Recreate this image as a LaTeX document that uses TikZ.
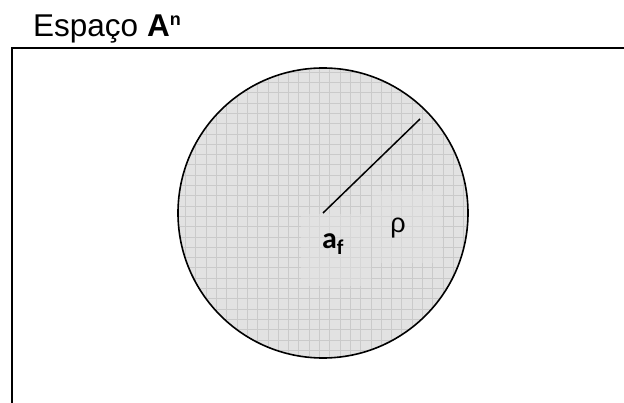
\documentclass[tikz,border=0pt]{standalone}
\usepackage{fontspec}
\setmainfont{Liberation Sans}
\newfontfamily\calfont{Carlito}
\usepackage{xcolor}
\usetikzlibrary{positioning}
\definecolor{ballgray}{HTML}{E2E2E2}
\definecolor{gridgray}{HTML}{CACACA}
\tikzset{
  frameline/.style={line width=1.7pt},
  labelbox/.style={fill=ballgray,opacity=0.5,text opacity=1,minimum width=70pt,minimum height=72pt,inner sep=0pt}
}

\begin{document}
\begin{tikzpicture}[x=1pt,y=-1pt]
    \useasboundingbox (0,0) rectangle (624,403);
    \clip (0,0) rectangle (624,403);

    % Title
    \node[anchor=base west,inner sep=0pt,font=\fontsize{31.5}{34}\selectfont] (title) at (33,37)
        {Espaço \textbf{A\raisebox{11pt}{\fontsize{18}{20}\selectfont n}}};

    % Space frame (runs off the page)
    \draw[frameline] (12,48) rectangle (660,440);

    % Ball with fine grid
    \coordinate (ctr) at (323,213);
    \fill[ballgray] (ctr) circle (145);
    \begin{scope}
        \clip (ctr) circle (145);
        \draw[gridgray,line width=0.6pt,step=10.3pt] (170,60) grid (480,370);
    \end{scope}
    \draw[line width=1.6pt] (ctr) circle (145);

    % Label patches
    \node[labelbox] (afbox) at (336,250) {};
    \node[labelbox] (rhobox) at (407,227) {};

    % Radius
    \coordinate (rim) at (420,119);
    \draw[line width=1.5pt] (ctr) -- (rim);

    % Labels
    \node[font=\calfont\fontsize{30}{32}\selectfont\bfseries] (af) at (333,244) {a\textsubscript{f}};
    \node[font=\fontsize{27}{30}\selectfont] (rho) at (398,228) {ρ};
\end{tikzpicture}
\end{document}
